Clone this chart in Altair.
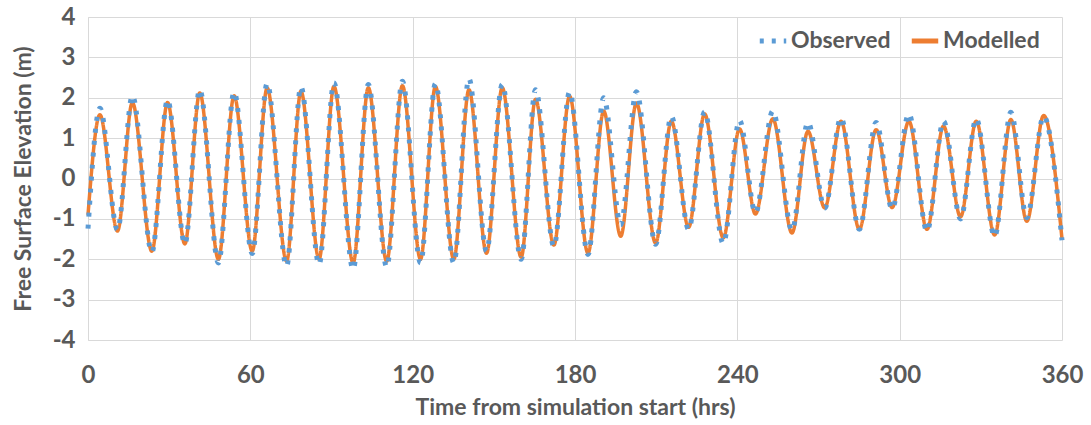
import altair as alt
import pandas as pd

# Extrema (and end points)
times = [0, 4.4, 10.9, 16.4, 23.6, 29.4, 35.8, 41.3, 48.2, 54.0, 60.7, 66.2, 73.4, 78.7, 85.4,
         90.9, 98.0, 103.6, 110.4, 116.2, 122.9, 128.4, 135.2, 140.8, 147.3, 153.1, 160.1,
         165.4, 172.2, 178.0, 184.8, 190.6, 196.9, 202.7, 209.8, 215.6, 222.0, 227.9, 234.8,
         240.8, 246.7, 253.1, 260.2, 266.1, 272.3, 278.3, 285.1, 291.3, 297.2, 303.4, 310.1,
         316.2, 322.5, 328.3, 335.1, 341.1, 347.0, 353.2, 360]
observed = [-1.24, 1.74, -1.27, 2.05, -1.82, 1.94, -1.62, 2.20, -2.09, 2.14, -1.86, 2.35, -2.17,
            2.27, -2.13, 2.37, -2.25, 2.33, -2.19, 2.41, -2.09, 2.35, -2.09, 2.47, -1.80, 2.33,
            -2.00, 2.20, -1.68, 2.14, -1.88, 2.00, -1.14, 2.15, -1.63, 1.54, -1.26, 1.65, -1.61,
            1.44, -0.85, 1.67, -1.28, 1.39, -0.73, 1.50, -1.26, 1.39, -0.75, 1.60, -1.30, 1.42,
            -1.00, 1.48, -1.43, 1.64, -0.97, 1.54, -1.53]
modelled = [-0.90, 1.58, -1.30, 1.88, -1.80, 1.88, -1.62, 2.12, -2.00, 2.05, -1.80, 2.24, -2.05,
            2.16, -2.00, 2.28, -2.09, 2.25, -2.05, 2.30, -2.00, 2.28, -2.00, 2.20, -1.85, 2.25,
            -1.95, 1.96, -1.65, 2.04, -1.85, 1.67, -1.43, 1.87, -1.60, 1.42, -1.21, 1.60, -1.47,
            1.23, -0.88, 1.48, -1.35, 1.17, -0.73, 1.42, -1.26, 1.21, -0.72, 1.42, -1.26, 1.30,
            -0.95, 1.42, -1.40, 1.46, -1.06, 1.56, -1.50]

series_names = ["Observed", "Modelled"]
colors = ["#5B9BD5", "#ED7D31"]
x_ticks = [0, 60, 120, 180, 240, 300, 360]
y_ticks = [-4, -3, -2, -1, 0, 1, 2, 3, 4]

df_obs = pd.DataFrame({"t": times, "v": observed, "series": "Observed"})
df_mod = pd.DataFrame({"t": times, "v": modelled, "series": "Modelled"})

FONT = "Lato"
GREY = "#595959"

x_enc = alt.X("t:Q", scale=alt.Scale(domain=[0, 360], nice=False),
              axis=alt.Axis(values=x_ticks, title="Time from simulation start (hrs)",
                            grid=True, domain=False, ticks=False, labelPadding=23,
                            labelFlush=False, labelOverlap=False, titlePadding=9))
y_enc = alt.Y("v:Q", scale=alt.Scale(domain=[-4, 4], nice=False),
              axis=alt.Axis(values=y_ticks, title="Free Surface Elevation (m)",
                            labelExpr="datum.value + ''",
                            grid=True, domain=True, ticks=False, labelPadding=13,
                            labelFlush=False, labelOverlap=False, titlePadding=17))
legend = alt.Legend(title=None, orient="none", legendX=669, legendY=8, direction="horizontal",
                    symbolType="stroke", symbolSize=700, symbolStrokeWidth=5,
                    labelFontSize=23, labelFont=FONT, labelFontWeight="bold", labelColor=GREY,
                    columnPadding=10, labelOffset=2)
color_enc = alt.Color("series:N", scale=alt.Scale(domain=series_names, range=colors), legend=legend)
dash_enc = alt.StrokeDash("series:N", scale=alt.Scale(domain=series_names, range=[[4, 8], [1, 0]]),
                          legend=legend)

mod_layer = alt.Chart(df_mod).mark_line(interpolate="monotone", strokeWidth=3.5).encode(
    x=x_enc, y=y_enc, color=color_enc, strokeDash=dash_enc)
obs_layer = alt.Chart(df_obs).mark_line(interpolate="monotone", strokeWidth=5).encode(
    x=x_enc, y=y_enc, color=color_enc, strokeDash=dash_enc)

chart = alt.layer(mod_layer, obs_layer).properties(
    width=974, height=323,
    padding={"left": 88, "top": 17, "right": 29, "bottom": 85},
    autosize=alt.AutoSizeParams(type="none"),
    background="white",
).configure_view(stroke=None).configure_axis(
    labelFont=FONT, labelFontSize=24, labelFontWeight="bold", labelColor=GREY,
    titleFont=FONT, titleFontSize=23, titleFontWeight="bold", titleColor=GREY,
    gridColor="#D9D9D9", gridWidth=1, domainColor="#D9D9D9", domainWidth=1,
)

chart.save("out.html", embed_options={"renderer": "svg", "actions": False})
